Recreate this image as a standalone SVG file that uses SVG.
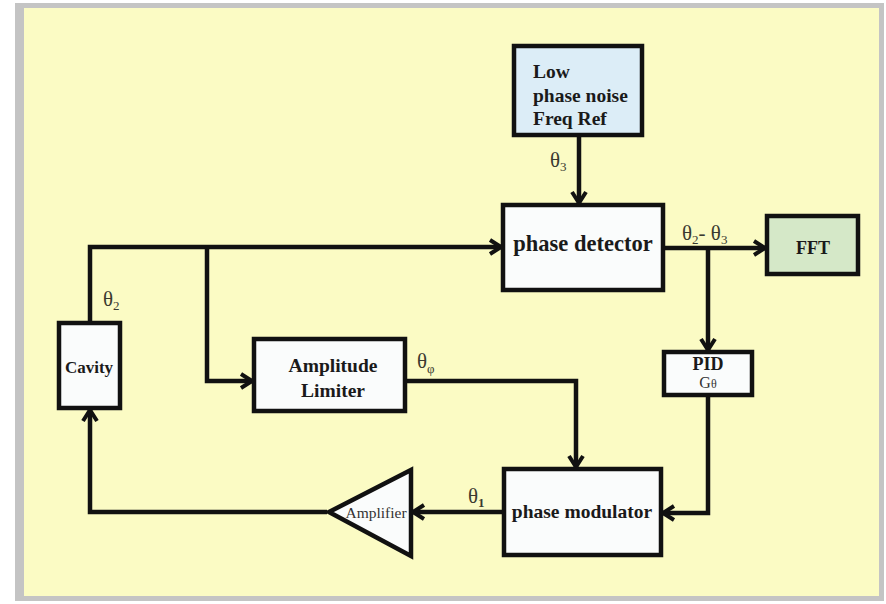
<svg xmlns="http://www.w3.org/2000/svg" width="886" height="604" viewBox="0 0 886 604">
<defs>
<marker id="arr" markerUnits="userSpaceOnUse" markerWidth="16" markerHeight="18" viewBox="0 0 16 18" refX="13" refY="9" orient="auto">
<path d="M2,2 L13,9 L2,16" fill="none" stroke="#111" stroke-width="4"/>
</marker>
<style>
.box{stroke:#111;stroke-width:4.5;fill:#fafcfc}
.lbl{font-family:"Liberation Serif","Times New Roman",serif;font-weight:bold;fill:#1a1a1a;text-anchor:middle}
.th{font-family:"Liberation Serif","Times New Roman",serif;fill:#3a3a30;font-size:21px}
.sub{font-size:13px}
.conn path{fill:none;stroke:#111;stroke-width:4.5;marker-end:url(#arr)}
</style>
</defs>
<rect x="0" y="0" width="886" height="604" fill="#ffffff"/>
<rect x="15" y="3" width="869" height="598" fill="#c4c4c4"/>
<rect x="24" y="8" width="855" height="588" fill="#fbfbc4"/>

<g class="conn">
<path d="M579,137 V203"/>
<path d="M90,321 V247 H501"/>
<path d="M207,247 V381 H252"/>
<path d="M665,248 H765"/>
<path d="M708,248 V350"/>
<path d="M708,397 V513 H663"/>
<path d="M407,381 H576 V467"/>
<path d="M502,512 H413"/>
<path d="M327,512 H90 V410"/>
</g>

<g id="freqref">
<rect class="box" x="514" y="46" width="128" height="89" style="fill:#dcedf7"/>
<text class="lbl" x="533" y="78" font-size="19.5" style="text-anchor:start">Low</text>
<text class="lbl" x="533" y="102" font-size="19.5" style="text-anchor:start">phase noise</text>
<text class="lbl" x="533" y="125" font-size="19.5" style="text-anchor:start">Freq Ref</text>
</g>
<g id="phasedetector">
<rect class="box" x="503" y="205" width="160" height="85"/>
<text class="lbl" x="583" y="251" font-size="22.5">phase detector</text>
</g>
<g id="fft">
<rect class="box" x="767" y="216" width="91" height="58" style="fill:#d5e8c8"/>
<text class="lbl" x="813" y="254" font-size="18">FFT</text>
</g>
<g id="pid">
<rect class="box" x="664" y="352" width="88" height="43"/>
<text class="lbl" x="708" y="370" font-size="18">PID</text>
<text x="708" y="388" font-family="Liberation Serif, serif" font-size="16" fill="#333" text-anchor="middle">G<tspan font-size="12">θ</tspan></text>
</g>
<g id="amplitudelimiter">
<rect class="box" x="254" y="339" width="151" height="72"/>
<text class="lbl" x="333" y="372" font-size="19.5">Amplitude</text>
<text class="lbl" x="333" y="397" font-size="19.5">Limiter</text>
</g>
<g id="phasemodulator">
<rect class="box" x="504" y="469" width="157" height="86"/>
<text class="lbl" x="582" y="518" font-size="19.5">phase modulator</text>
</g>
<g id="amplifier">
<polygon points="329,512 411,470 411,556" fill="#fafcfc" stroke="#111" stroke-width="4.5" stroke-linejoin="miter"/>
<text x="376" y="518" font-family="Liberation Serif, serif" font-size="15.5" fill="#333" text-anchor="middle">Amplifier</text>
</g>
<g id="cavity">
<rect class="box" x="59" y="323" width="61" height="85"/>
<text class="lbl" x="89" y="373" font-size="17">Cavity</text>
</g>

<g id="labels">
<text class="th" x="550" y="167">θ<tspan class="sub" dy="4">3</tspan></text>
<text class="th" x="682" y="240">θ<tspan class="sub" dy="4">2</tspan><tspan dy="-4">- θ</tspan><tspan class="sub" dy="4">3</tspan></text>
<text class="th" x="103" y="306">θ<tspan class="sub" dy="4">2</tspan></text>
<text class="th" x="417" y="368">θ<tspan class="sub" dy="5" font-size="10">φ</tspan></text>
<text class="th" x="468" y="503">θ<tspan class="sub" dy="4" font-weight="bold" font-size="15">1</tspan></text>
</g>
</svg>
